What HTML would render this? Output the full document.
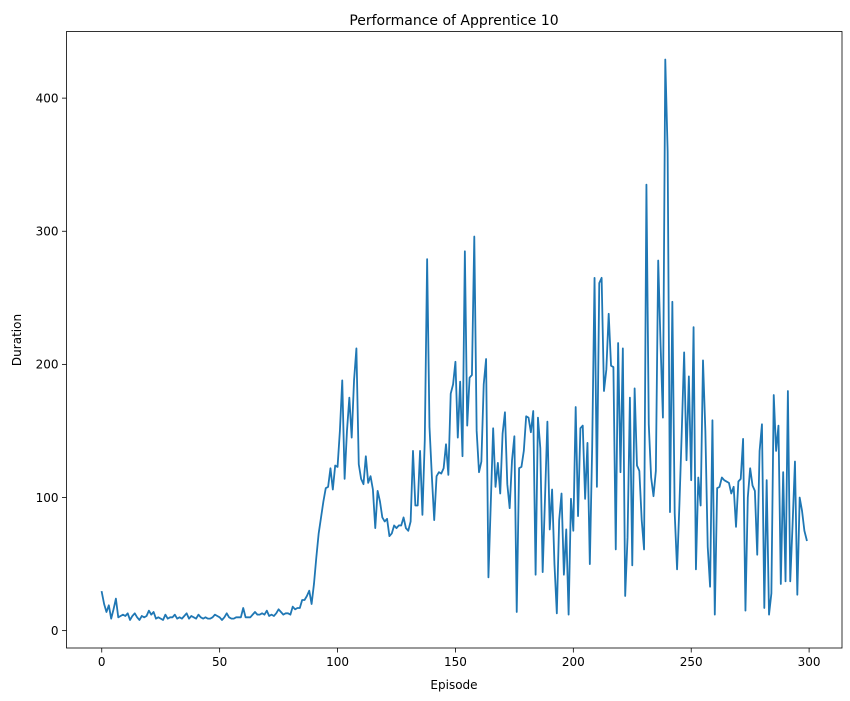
<!DOCTYPE html>
<html><head><meta charset="utf-8"><style>
html,body{margin:0;padding:0;background:#fff;}
svg{display:block;font-family:"DejaVu Sans","Liberation Sans",sans-serif;}
</style></head><body>
<svg id="chart" width="850" height="701" viewBox="0 0 850 701" xmlns="http://www.w3.org/2000/svg">
<rect width="850" height="701" fill="#fff"/>
<text x="454" y="25" text-anchor="middle" font-size="14" fill="#000">Performance of Apprentice 10</text>
<g id="plot"></g>
<text x="454" y="689" text-anchor="middle" font-size="12" fill="#000">Episode</text>
<text x="21" y="340" text-anchor="middle" font-size="12" fill="#000" transform="rotate(-90 21 340)">Duration</text>
</svg>
<script>
const durations = [29,20,14,19,9,16,24,10,11,12,11,13,8,11,13,10,8,11,10,11,15,12,14,9,10,9,8,12,9,10,10,12,9,10,9,11,13,9,11,10,9,12,10,9,10,9,9,10,12,11,10,8,10,13,10,9,9,10,10,10,17,10,10,10,12,14,12,12,13,12,15,11,12,11,13,16,14,12,13,13,12,18,16,17,17,23,23,26,30,20,35,55,73,85,97,107,108,122,106,124,123,150,188,114,150,175,145,188,212,125,114,110,131,111,116,106,77,105,97,85,82,84,71,73,79,77,79,79,85,77,75,82,135,94,94,135,87,143,279,153,116,83,116,119,118,122,140,117,178,185,202,145,187,131,285,154,190,192,296,150,119,127,185,204,40,96,152,108,126,103,148,164,110,92,128,146,14,122,123,135,161,160,149,165,42,160,137,44,100,157,76,106,50,13,83,103,42,76,12,99,75,168,86,152,154,99,141,50,138,265,108,261,265,180,196,238,199,198,61,216,119,212,26,70,175,49,182,124,120,83,61,335,155,115,101,120,278,215,160,429,360,89,247,88,46,95,150,209,128,191,113,228,46,115,94,203,150,63,33,158,12,107,108,115,113,112,111,103,108,78,112,114,144,15,100,122,109,105,57,135,155,17,113,12,28,177,135,154,35,119,37,180,37,80,127,27,100,90,75,68];
const xTicks = [0,50,100,150,200,250,300];
const yTicks = [0,100,200,300,400];

const NS = "http://www.w3.org/2000/svg";
const L = 66.5, R = 842, T = 31.5, B = 648;
const xMin = -14.95, xMax = 313.95, yMin = -13.05, yMax = 450.05;
const xs = v => L + (v - xMin) / (xMax - xMin) * (R - L);
const ys = v => B - (v - yMin) / (yMax - yMin) * (B - T);
const plot = document.getElementById('plot');
function mk(tag, attrs){const e=document.createElementNS(NS,tag);for(const k in attrs)e.setAttribute(k,attrs[k]);return e;}

const pts = durations.map((d,i)=>xs(i).toFixed(2)+','+ys(d).toFixed(2)).join(' ');
const line = mk('polyline',{points:pts,fill:'none',stroke:'#1f77b4','stroke-width':1.8,'stroke-linejoin':'round','stroke-linecap':'square'});


plot.appendChild(line);

const frame = mk('rect',{x:L,y:T,width:R-L,height:B-T,fill:'none',stroke:'#000','stroke-width':0.8});


plot.appendChild(frame);

xTicks.forEach(t=>{
  const x = xs(t);
  const tk = mk('line',{x1:x,x2:x,y1:B,y2:B+4.5,stroke:'#000','stroke-width':0.8});
  
  
  plot.appendChild(tk);
  const lb = mk('text',{x:x,y:B+18,'text-anchor':'middle','font-size':12,fill:'#000'});
  lb.textContent = t;
  
  
  plot.appendChild(lb);
});
yTicks.forEach(t=>{
  const y = ys(t);
  const tk = mk('line',{x1:L-4.5,x2:L,y1:y,y2:y,stroke:'#000','stroke-width':0.8});
  
  
  plot.appendChild(tk);
  const lb = mk('text',{x:L-8,y:y+4.3,'text-anchor':'end','font-size':12,fill:'#000'});
  lb.textContent = t;
  
  
  plot.appendChild(lb);
});
</script>
</body></html>
